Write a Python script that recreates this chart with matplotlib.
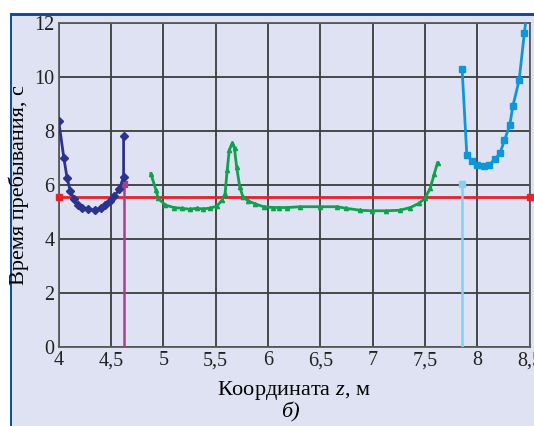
import numpy as np
import matplotlib
matplotlib.use('Agg')
import matplotlib.pyplot as plt
from matplotlib.patches import Rectangle
from matplotlib.ticker import FuncFormatter

# navy curve (first section)
z1 = [4.00, 4.05, 4.08, 4.11, 4.15, 4.18, 4.22, 4.28, 4.35, 4.40, 4.44, 4.49, 4.53, 4.58, 4.62, 4.62]
t1 = [8.37, 6.99, 6.27, 5.79, 5.47, 5.28, 5.16, 5.10, 5.07, 5.14, 5.26, 5.42, 5.60, 5.84, 6.31, 7.81]

# green curve (middle section)
z2 = [4.88, 4.93, 4.95, 5.02, 5.10, 5.18, 5.25, 5.32, 5.38, 5.45, 5.51, 5.56, 5.59, 5.61, 5.63,
      5.66, 5.68, 5.70, 5.73, 5.76, 5.81, 5.88, 5.96, 6.05, 6.11, 6.18, 6.31, 6.50, 6.66, 6.75,
      6.88, 6.99, 7.13, 7.26, 7.36, 7.44, 7.50, 7.55, 7.59, 7.62]
t2 = [6.43, 5.81, 5.51, 5.26, 5.17, 5.14, 5.11, 5.14, 5.12, 5.15, 5.22, 5.44, 5.69, 6.56, 7.30,
      7.57, 7.36, 6.68, 5.94, 5.57, 5.42, 5.30, 5.20, 5.17, 5.17, 5.17, 5.20, 5.20, 5.20, 5.14,
      5.07, 5.05, 5.05, 5.07, 5.17, 5.32, 5.51, 5.88, 6.43, 6.83]

# light blue curve (last section)
z3 = [7.855, 7.90, 7.95, 8.00, 8.06, 8.11, 8.17, 8.22, 8.26, 8.31, 8.34, 8.40, 8.45, 8.47]
t3 = [10.30, 7.12, 6.90, 6.75, 6.70, 6.75, 6.96, 7.21, 7.67, 8.22, 8.93, 9.89, 11.64, 12.3]

# reference level and section boundaries
t_ref = 5.55
z_ref = [4.0, 8.5]
z_bound = [4.624, 7.857]
t_bound = 6.03

xticks = [4, 4.5, 5, 5.5, 6, 6.5, 7, 7.5, 8, 8.5]
yticks = [0, 2, 4, 6, 8, 10, 12]

plt.rcParams['font.family'] = ['Liberation Serif', 'DejaVu Serif']
plt.rcParams['mathtext.fontset'] = 'custom'
plt.rcParams['mathtext.it'] = 'Liberation Serif:italic'

fig = plt.figure(figsize=(5.34, 4.26), dpi=100)
# page background and frame
fig.patches.append(Rectangle((12/534, 0), 1, 1 - 15.5/426, transform=fig.transFigure,
                             facecolor='#dfe2f2', edgecolor='none', zorder=-10))
fig.patches.append(Rectangle((9.5/534, 1 - 15.5/426), 1, 3/426, transform=fig.transFigure,
                             facecolor='#0d4fa3', edgecolor='none', zorder=-9))
fig.patches.append(Rectangle((9.5/534, 0), 2.8/534, 1 - 12.5/426, transform=fig.transFigure,
                             facecolor='#0d4fa3', edgecolor='none', zorder=-9))

ax = fig.add_axes([58.7/534, 1 - 347/426, (529.6 - 58.7)/534, (347 - 23.3)/426])
ax.set_facecolor('#dfe2f2')
ax.set_xlim(4, 8.5)
ax.set_ylim(0, 12)
ax.set_xticks(xticks)
ax.set_yticks(yticks)
fmt = FuncFormatter(lambda v, p: ('%g' % v).replace('.', ','))
ax.xaxis.set_major_formatter(fmt)
ax.yaxis.set_major_formatter(fmt)
ax.tick_params(length=0, labelsize=14.5, colors='#222222', pad=3)
ax.grid(True, color='#3c3c3c', lw=1.3)
ax.set_axisbelow(True)
for s in ax.spines.values():
    s.set_color('#5a5a5a')
    s.set_linewidth(1.3)

ax.plot(z_ref, [t_ref, t_ref], color='#e8202a', lw=2, marker='s', ms=5, zorder=3, clip_on=False)
ax.plot([z_bound[0]] * 2, [0, t_bound], color='#a3448a', lw=1.8, marker='s', markevery=[1], ms=4, zorder=3)
ax.plot([z_bound[1]] * 2, [0, t_bound], color='#85d0f2', lw=1.8, marker='s', markevery=[1], ms=4, zorder=3)

ax.plot(z1, t1, color='#2b3390', lw=2, marker='D', ms=4, zorder=4)
ax.plot(z2, t2, color='#0fa14e', lw=2, marker='^', ms=3, zorder=4)
ax.plot(z3[:-1], t3[:-1], color='#0d96d8', lw=2, marker='s', ms=5, ls='none', zorder=4)
ax.plot(z3, t3, color='#0d96d8', lw=2, zorder=4)

ax.set_ylabel('Время пребывания, с', fontsize=16, labelpad=4)
ax.set_xlabel('Координата $z$, м', fontsize=16, labelpad=6)
fig.text(0.543, 0.02, 'б)', fontsize=16, style='italic', ha='center')

fig.savefig('out.png', dpi=100)
